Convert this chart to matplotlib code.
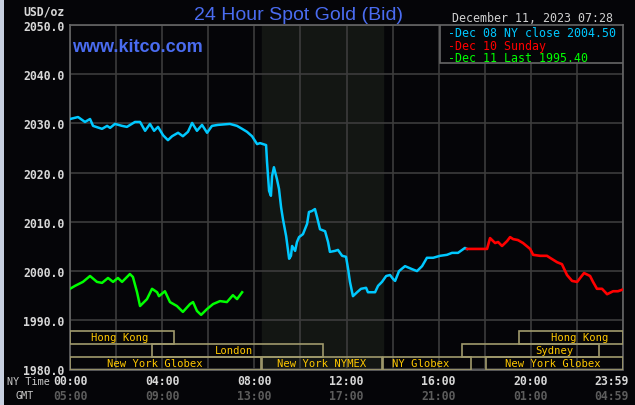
import numpy as np
import matplotlib
matplotlib.use("Agg")
import matplotlib.pyplot as plt
from matplotlib.patches import Rectangle
import matplotlib.transforms as mtransforms

# hours since 00:00 New York time
dec08_hours = [0, 0.35, 0.65, 0.87, 1.0, 1.39, 1.61, 1.74, 1.95, 2.26, 2.47, 2.82, 3.04, 3.26,
               3.47, 3.65, 3.82, 4.04, 4.25, 4.43, 4.69, 4.90, 5.12, 5.30, 5.51, 5.73, 5.95,
               6.16, 6.42, 6.94, 7.25, 7.47, 7.68, 7.90, 8.12, 8.25, 8.51, 8.55, 8.64, 8.72,
               8.77, 8.85, 8.98, 9.07, 9.16, 9.24, 9.38, 9.51, 9.59, 9.64, 9.77, 9.85, 9.94,
               10.11, 10.29, 10.37, 10.50, 10.63, 10.72, 10.85, 11.07, 11.20, 11.28, 11.50,
               11.63, 11.81, 11.98, 12.07, 12.15, 12.28, 12.46, 12.63, 12.85, 12.93, 13.11,
               13.24, 13.37, 13.54, 13.72, 13.89, 14.02, 14.11, 14.28, 14.54, 14.84, 15.06,
               15.28, 15.49, 15.76, 16.06, 16.36, 16.58, 16.84, 17.14, 17.23]
dec08_price = [2030.9, 2031.3, 2030.3, 2030.9, 2029.5, 2028.9, 2029.5, 2029.1, 2029.9, 2029.5,
               2029.3, 2030.3, 2030.3, 2028.5, 2029.9, 2028.5, 2029.3, 2027.6, 2026.6, 2027.4,
               2028.1, 2027.4, 2028.3, 2030.1, 2028.5, 2029.7, 2028.1, 2029.5, 2029.7, 2029.9,
               2029.5, 2028.9, 2028.3, 2027.4, 2025.8, 2026.0, 2025.6, 2022.2, 2016.3, 2015.3,
               2019.3, 2021.1, 2018.7, 2016.7, 2013.0, 2010.6, 2007.1, 2002.5, 2003.1, 2005.1,
               2004.1, 2005.9, 2006.9, 2007.5, 2009.6, 2012.0, 2012.2, 2012.6, 2011.0, 2008.5,
               2008.1, 2005.9, 2003.9, 2004.1, 2004.3, 2003.1, 2002.9, 2000.4, 1997.8, 1994.9,
               1995.7, 1996.4, 1996.6, 1995.7, 1995.7, 1995.7, 1997.0, 1997.8, 1999.0, 1999.2,
               1998.4, 1998.0, 2000.0, 2001.0, 2000.4, 2000.0, 2001.0, 2002.7, 2002.7, 2003.1,
               2003.3, 2003.7, 2003.7, 2004.7, 2004.5]

dec10_hours = [17.23, 18.10, 18.23, 18.45, 18.58, 18.75, 18.97, 19.10, 19.23, 19.44, 19.66,
               19.97, 20.10, 20.40, 20.70, 20.83, 21.14, 21.35, 21.57, 21.79, 22.01, 22.14,
               22.31, 22.57, 22.70, 22.87, 23.09, 23.31, 23.57, 23.78, 23.96]
dec10_price = [2004.5, 2004.5, 2006.7, 2005.7, 2005.9, 2005.1, 2006.1, 2006.9, 2006.5, 2006.3,
               2005.7, 2004.5, 2003.3, 2003.1, 2003.1, 2002.7, 2001.8, 2001.4, 1999.2, 1998.0,
               1997.8, 1998.6, 1999.6, 1999.0, 1997.8, 1996.4, 1996.4, 1995.3, 1995.9, 1995.9,
               1996.2]

dec11_hours = [0, 0.22, 0.56, 0.87, 1.17, 1.39, 1.65, 1.87, 2.08, 2.26, 2.60, 2.73, 2.91, 3.04,
               3.34, 3.56, 3.78, 3.86, 4.12, 4.34, 4.64, 4.90, 5.21, 5.34, 5.51, 5.69, 5.95,
               6.21, 6.51, 6.81, 7.07, 7.25, 7.47]
dec11_price = [1996.4, 1997.0, 1997.8, 1999.0, 1997.8, 1997.6, 1998.6, 1997.8, 1998.6, 1997.8,
               1999.4, 1998.8, 1995.7, 1992.9, 1994.3, 1996.4, 1995.7, 1994.9, 1995.9, 1993.7,
               1992.9, 1991.7, 1993.3, 1993.7, 1991.9, 1991.1, 1992.3, 1993.3, 1993.9, 1993.7,
               1995.1, 1994.3, 1995.7]

legend_labels = ["Dec 08 NY close 2004.50", "Dec 10 Sunday", "Dec 11 Last 1995.40"]
series_colors = ["#00c8ff", "#ff0000", "#00ff00"]

# trading sessions: name, row (0 = bottom), start hour, end hour, label hour
sessions = [
    ("Hong Kong", 2, 0.0, 4.5, 2.17),
    ("London", 1, 3.55, 11.0, 7.12),
    ("New York Globex", 0, 0.0, 8.3, 3.67),
    ("New York NYMEX", 0, 8.35, 13.55, 10.9),
    ("NY Globex", 0, 13.6, 17.4, 15.2),
    ("New York Globex", 0, 18.05, 24.0, 20.96),
    ("Sydney", 1, 17.0, 22.95, 21.0),
    ("Hong Kong", 2, 19.5, 24.0, 22.1),
]

ny_ticks = [0, 4, 8, 12, 16, 20, 23.5]
ny_labels = ["00:00", "04:00", "08:00", "12:00", "16:00", "20:00", "23:59"]
gmt_labels = ["05:00", "09:00", "13:00", "17:00", "21:00", "01:00", "04:59"]

bg = "#050508"
grid_c = "#3c3c3c"
mono = "DejaVu Sans Mono"

fig = plt.figure(figsize=(6.35, 4.06), dpi=100, facecolor=bg)
ax = fig.add_axes([70 / 635, 1 - 370.5 / 406, 553 / 635, 344.5 / 406], facecolor=bg)

ax.set_xlim(0, 24)
ax.set_ylim(1980, 2050)
ax.axvspan(8.33, 13.58, color="#131613", zorder=0)

ax.set_xticks(np.arange(0, 25, 2))
ax.set_xticklabels([])
ax.set_yticks(np.arange(1980, 2051, 10))
ax.set_yticklabels(["%.1f" % v for v in np.arange(1980, 2051, 10)],
                   fontfamily=mono, fontweight="bold", fontsize=8.3, color="#d8d8d8")
ax.tick_params(length=0, pad=4)
ax.grid(True, color=grid_c, lw=1.2)
ax.set_axisbelow(True)
for s in ax.spines.values():
    s.set_color("#666666")
    s.set_linewidth(1.2)

ax.plot(dec08_hours, dec08_price, color=series_colors[0], lw=1.8, zorder=3)
ax.plot(dec10_hours, dec10_price, color=series_colors[1], lw=1.9, zorder=3)
ax.plot(dec11_hours, dec11_price, color=series_colors[2], lw=1.8, zorder=3)

# session boxes
trans = mtransforms.blended_transform_factory(ax.transData, ax.transAxes)
row_h = 13 / 344.5
for name, row, h0, h1, hl in sessions:
    ax.add_patch(Rectangle((h0, row * row_h), h1 - h0, row_h, transform=trans,
                           fill=False, edgecolor="#a09a6c", lw=1.2, zorder=4))
    ax.text(hl, (row + 0.5) * row_h, name, transform=trans, ha="center", va="center",
            fontfamily=mono, fontsize=7.6, color="#ffc800", zorder=5)

# legend box
ax.add_patch(Rectangle((0.669, 0.89), 0.331, 0.11, transform=ax.transAxes,
                       facecolor=bg, edgecolor="#666666", lw=1.2, zorder=6))
for i, (lab, c) in enumerate(zip(legend_labels, series_colors)):
    y = 0.978 - i * 0.0365
    ax.text(0.683, y, "-" + lab, transform=ax.transAxes, ha="left", va="center",
            fontfamily=mono, fontsize=8.4, color=c, zorder=7)

# x labels, NY time and GMT
for h, ny, gm in zip(ny_ticks, ny_labels, gmt_labels):
    ax.text(h, -0.033, ny, transform=trans, ha="center", va="center",
            fontfamily=mono, fontweight="bold", fontsize=8.3, color="#d8d8d8")
    ax.text(h, -0.075, gm, transform=trans, ha="center", va="center",
            fontfamily=mono, fontweight="bold", fontsize=8.3, color="#5c5c5c")
fig.text(7 / 635, 1 - 382 / 406, "NY Time", ha="left", va="center",
         fontfamily=mono, fontsize=7.3, color="#c8c8c8")
fig.text(15 / 635, 1 - 396 / 406, "GMT", ha="left", va="center",
         fontfamily=mono, fontsize=7.3, color="#c8c8c8")

fig.text(65 / 635, 1 - 12 / 406, "USD/oz", ha="right", va="center",
         fontfamily=mono, fontweight="bold", fontsize=8.3, color="#d8d8d8")
fig.text(298 / 635, 1 - 15 / 406, "24 Hour Spot Gold (Bid)", ha="center", va="center",
         fontfamily="Liberation Sans", fontsize=14, color="#4a6cf0")
fig.text(532 / 635, 1 - 18 / 406, "December 11, 2023 07:28", ha="center", va="center",
         fontfamily=mono, fontsize=8.4, color="#d0d0d0")
fig.text(72 / 635, 1 - 47 / 406, "www.kitco.com", ha="left", va="center",
         fontfamily="Liberation Sans", fontweight="bold", fontsize=13, color="#4a6cf0")

# light page edge on the left
fig.patches.append(Rectangle((0, 0), 4 / 635, 1, transform=fig.transFigure,
                             facecolor="#c8d0e0", edgecolor="none"))

fig.savefig("out.png", dpi=100, facecolor=bg)
